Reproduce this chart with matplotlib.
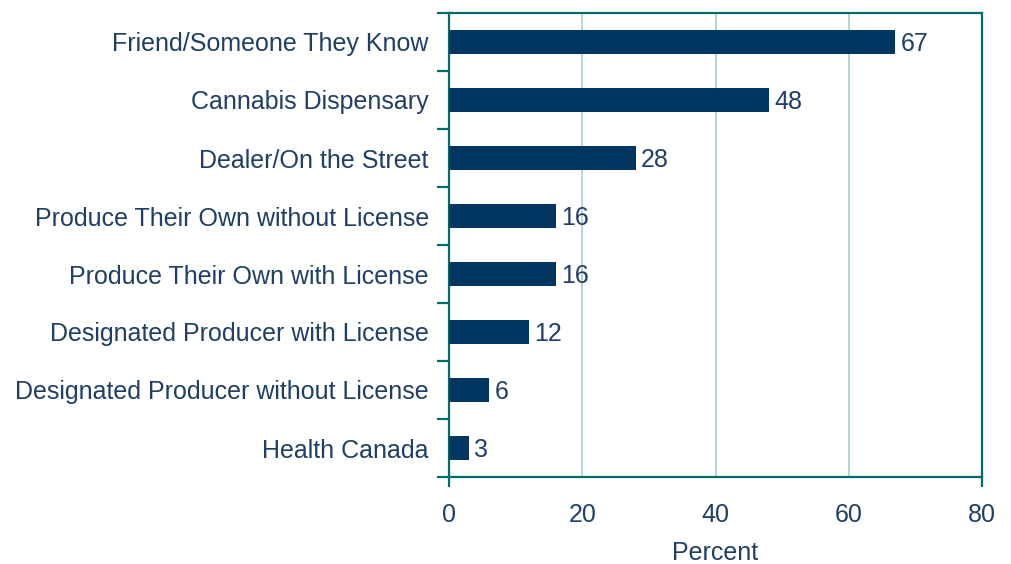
import matplotlib
matplotlib.use("Agg")
import matplotlib.pyplot as plt

categories = [
    "Friend/Someone They Know",
    "Cannabis Dispensary",
    "Dealer/On the Street",
    "Produce Their Own without License",
    "Produce Their Own with License",
    "Designated Producer with License",
    "Designated Producer without License",
    "Health Canada",
]
values = [67, 48, 28, 16, 16, 12, 6, 3]
xticks = [0, 20, 40, 60, 80]

bar_color = "#003660"
text_color = "#1f3f66"
axis_color = "#006d6b"
grid_color = "#a9cfd0"

plt.rcParams["font.family"] = ["Liberation Sans", "DejaVu Sans"]
fs = 18

fig = plt.figure(figsize=(10.12, 5.64), dpi=100)
ax = fig.add_axes([449 / 1012, 1 - 477 / 564, 533 / 1012, 464 / 564])

ypos = list(range(len(categories)))
ax.barh(ypos, values, height=0.41, color=bar_color, zorder=3)
for y, v in zip(ypos, values):
    ax.text(v + 0.8, y + 0.04, str(v), va="center", ha="left", fontsize=fs,
            color=text_color)

ax.set_xlim(0, 80)
ax.set_ylim(len(categories) - 0.5, -0.5)

# y labels centred on bars, ticks on category boundaries
ax.set_yticks(ypos)
ax.set_yticklabels(categories, fontsize=fs, color=text_color)
ax.tick_params(axis="y", which="major", length=0, pad=14.5)
ax.set_yticks([i - 0.5 for i in range(len(categories) + 1)], minor=True)
ax.tick_params(axis="y", which="minor", length=8.5, width=1.6, color=axis_color)

ax.set_xticks(xticks)
ax.set_xticklabels([str(t) for t in xticks], fontsize=fs, color=text_color)
ax.tick_params(axis="x", which="major", length=7.5, width=1.6,
               color=axis_color, pad=11)
for t in ax.xaxis.get_major_ticks()[1:-1]:
    t.tick1line.set_visible(False)

ax.set_xlabel("Percent", fontsize=fs, color=text_color, labelpad=10)

ax.grid(axis="x", color=grid_color, linewidth=1.2, zorder=0)
for s in ax.spines.values():
    s.set_color(axis_color)
    s.set_linewidth(1.6)

fig.savefig("out.png", dpi=100)
